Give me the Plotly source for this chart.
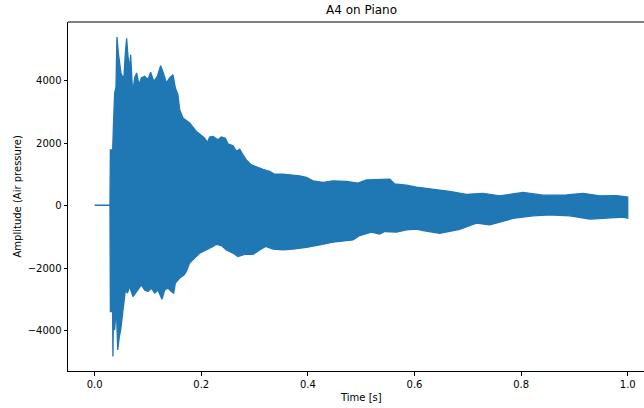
import plotly.graph_objects as go

# Upper envelope of the waveform (time in s, amplitude)
upper_t = [0.0, 0.0287, 0.0295, 0.0338, 0.0356, 0.0375, 0.040, 0.0418, 0.0445, 0.0475, 0.0493,
           0.052, 0.055, 0.0576, 0.060, 0.0625, 0.0657, 0.0675, 0.0713, 0.075, 0.0788, 0.0831,
           0.0876, 0.0938, 0.100, 0.105, 0.111, 0.1176, 0.1238, 0.1289, 0.1345, 0.1407, 0.1469,
           0.1514, 0.1563, 0.1595, 0.1657, 0.1782, 0.1908, 0.197, 0.2064, 0.2114, 0.2158, 0.222,
           0.2313, 0.2377, 0.2452, 0.2502, 0.2595, 0.2658, 0.272, 0.2783, 0.2846, 0.294, 0.3033,
           0.3158, 0.3283, 0.3377, 0.3533, 0.372, 0.3846, 0.3972, 0.4096, 0.4283, 0.4471, 0.4722,
           0.494, 0.5098, 0.5347, 0.5535, 0.5628, 0.5848, 0.6036, 0.6411, 0.666, 0.6974, 0.7285,
           0.7598, 0.8036, 0.8411, 0.885, 0.9161, 0.9475, 0.9788, 1.0]
upper_a = [20, 20, 1790, 1790, 2750, 3600, 3800, 5400, 4880, 4460, 4250,
           4140, 4140, 4890, 5360, 4780, 4400, 4830, 3600, 4090, 4250, 3870,
           4090, 4140, 4030, 4270, 3980, 4140, 4480, 4250, 3930, 4090, 4190,
           3770, 3550, 3070, 2810, 2650, 2380, 2300, 2160, 2030, 2200, 2220,
           2110, 2200, 2160, 1980, 1920, 1740, 1810, 1630, 1470, 1310, 1240,
           1170, 1100, 1010, 1010, 980, 960, 910, 800, 750, 800, 780,
           730, 830, 830, 850, 700, 660, 600, 530, 460, 370, 400,
           320, 430, 340, 350, 400, 320, 330, 280]

# Lower envelope of the waveform
lower_t = [0.0, 0.0287, 0.0295, 0.0336, 0.0343, 0.0350, 0.0375, 0.0407, 0.0432, 0.0463, 0.0488,
           0.0512, 0.0544, 0.0576, 0.0614, 0.0657, 0.0719, 0.0782, 0.0876, 0.0938, 0.100,
           0.1064, 0.1126, 0.1188, 0.1263, 0.1313, 0.1375, 0.1439, 0.1482, 0.1514, 0.1595,
           0.1675, 0.172, 0.178, 0.1876, 0.197, 0.2096, 0.222, 0.2283, 0.2377, 0.2471, 0.2595,
           0.2689, 0.2814, 0.297, 0.3096, 0.3208, 0.3345, 0.3533, 0.372, 0.3972, 0.4221,
           0.4471, 0.4722, 0.4846, 0.4972, 0.5191, 0.5347, 0.5441, 0.566, 0.5848, 0.6036,
           0.616, 0.6473, 0.6848, 0.7161, 0.7411, 0.7848, 0.8223, 0.8537, 0.8912, 0.9287,
           0.9537, 0.9912, 1.0]
lower_a = [20, 20, -3380, -3380, -4820, -3700, -3970, -3220, -4610, -4180, -3970,
           -3540, -3220, -2690, -2790, -2580, -2900, -2740, -2530, -2690, -2740,
           -2630, -2790, -2690, -2990, -2690, -2630, -2740, -2790, -2470, -2310,
           -2210, -2100, -1830, -1670, -1510, -1410, -1300, -1230, -1270, -1410, -1510,
           -1620, -1550, -1550, -1410, -1300, -1380, -1410, -1380, -1330, -1250,
           -1160, -1120, -1090, -950, -840, -900, -820, -840, -770, -740,
           -790, -875, -750, -550, -610, -400, -320, -290, -320, -420,
           -400, -360, -395]

x_ticks = [0.0, 0.2, 0.4, 0.6, 0.8, 1.0]
y_ticks = [-4000, -2000, 0, 2000, 4000]

color = "#1f77b4"
font = "DejaVu Sans, Liberation Sans, sans-serif"

poly_x = upper_t + lower_t[::-1]
poly_y = upper_a + lower_a[::-1]

fig = go.Figure()
fig.add_trace(go.Scatter(
    x=poly_x, y=poly_y, mode="lines", fill="toself",
    fillcolor=color, line=dict(color=color, width=1.3),
    hoverinfo="skip", showlegend=False))

fig.update_layout(
    width=644, height=408,
    margin=dict(l=68, r=0, t=22, b=37),
    paper_bgcolor="white", plot_bgcolor="white",
    font=dict(family=font, size=10, color="black"),
    showlegend=False,
)
fig.update_xaxes(
    range=[-0.05, 1.0305], tickvals=x_ticks, tickformat=".1f",
    showgrid=False, zeroline=False, showline=True, linecolor="black", linewidth=1,
    ticks="outside", ticklen=3.5, tickwidth=1, tickcolor="black", mirror=False,
)
fig.update_yaxes(
    range=[-5280, 5878], tickvals=y_ticks,
    showgrid=False, zeroline=False, showline=True, linecolor="black", linewidth=1,
    ticks="outside", ticklen=3.5, tickwidth=1, tickcolor="black", mirror=False,
)
# top spine
fig.add_shape(type="line", xref="paper", yref="paper", x0=0, x1=1, y0=1, y1=1,
              line=dict(color="black", width=1))

cx = (361 - 68) / 576
fig.add_annotation(text="A4 on Piano", xref="paper", yref="paper", x=cx, y=1 + (22.3 - 10) / 348.7,
                   xanchor="center", yanchor="middle", showarrow=False, font=dict(size=12))
fig.add_annotation(text="Time [s]", xref="paper", yref="paper", x=cx, y=(371 - 397) / 348.7,
                   xanchor="center", yanchor="middle", showarrow=False, font=dict(size=10))
fig.add_annotation(text="Amplitude (Air pressure)", xref="paper", yref="paper",
                   x=(17 - 68) / 576, y=0.5, textangle=-90,
                   xanchor="center", yanchor="middle", showarrow=False, font=dict(size=10))

fig.write_html("out.html")
